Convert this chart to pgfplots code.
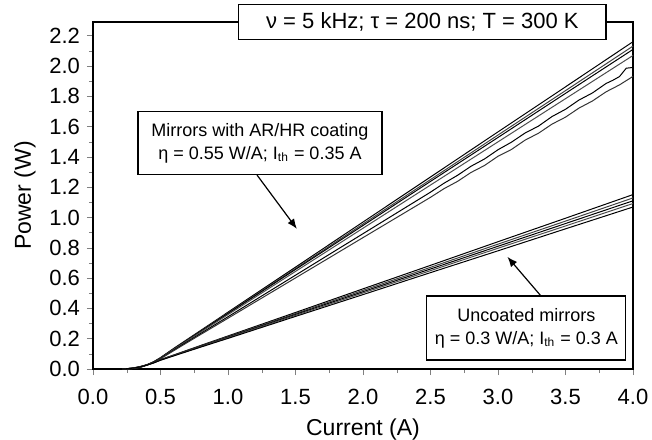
\documentclass[border=0pt]{standalone}
\usepackage{fontspec}
\setmainfont{Liberation Sans}
\usepackage{pgfplots}
\pgfplotsset{compat=1.18}
\usetikzlibrary{arrows.meta}

\begin{document}
\begin{tikzpicture}
\path[use as bounding box] (-46.5pt,-35pt) rectangle (279.5pt,184.5pt);
\begin{axis}[
    scale only axis,
    width=270pt, height=173.5pt,
    xmin=0, xmax=4, ymin=0, ymax=2.29,
    xtick={0,0.5,1,1.5,2,2.5,3,3.5,4},
    ytick={0,0.2,0.4,0.6,0.8,1,1.2,1.4,1.6,1.8,2,2.2},
    minor x tick num=1, minor y tick num=1,
    xtick pos=bottom, ytick pos=left,
    tick align=outside,
    major tick length=3pt, minor tick length=2pt,
    /pgf/number format/.cd, fixed, fixed zerofill, precision=1, assume math mode=true,
    /pgfplots/.cd,
    tick label style={font=\fontsize{11}{12}\selectfont},
    xticklabel style={yshift=-3.5pt},
    label style={font=\fontsize{11.5}{13}\selectfont},
    xlabel={Current (A)}, ylabel={Power (W)},
    clip=false,
    axis line style={line width=0.6pt},
    cycle list={{black,solid}},
    every axis plot/.append style={line width=0.5pt, no markers},
]
% mirrors with AR/HR coating
\addplot[black] coordinates {(0.25,0) (0.30,0.004) (0.35,0.013) (0.40,0.028) (0.45,0.048) (0.50,0.075)
  (0.6,0.137) (0.8,0.256) (1.0,0.375) (1.5,0.672) (2.0,0.970) (2.5,1.267) (3.0,1.565) (3.5,1.862) (4.0,2.160)};
\addplot[black!75] coordinates {(0.25,0) (0.30,0.004) (0.35,0.013) (0.40,0.028) (0.45,0.048) (0.50,0.074)
  (0.6,0.135) (0.8,0.252) (1.0,0.370) (1.5,0.663) (2.0,0.957) (2.5,1.250) (3.0,1.544) (3.5,1.837) (4.0,2.131)};
\addplot[black] coordinates {(0.25,0) (0.30,0.004) (0.35,0.013) (0.40,0.027) (0.45,0.047) (0.50,0.073)
  (0.6,0.134) (0.8,0.250) (1.0,0.366) (1.5,0.657) (2.0,0.947) (2.5,1.238) (3.0,1.528) (3.5,1.819) (4.0,2.109)};
\addplot[black!70] coordinates {(0.25,0) (0.30,0.004) (0.35,0.012) (0.40,0.027) (0.45,0.046) (0.50,0.072)
  (0.6,0.131) (0.8,0.245) (1.0,0.359) (1.5,0.644) (2.0,0.929) (2.5,1.214) (3.0,1.499) (3.5,1.784) (4.0,2.069)};
\addplot[black] coordinates {(0.25,0) (0.30,0.004) (0.35,0.012) (0.40,0.026) (0.45,0.045) (0.50,0.070)
  (0.6,0.126) (0.8,0.236) (1.0,0.345) (1.5,0.619) (2.0,0.893) (2.5,1.167)
  (2.6,1.226) (2.7,1.278) (2.8,1.338) (2.9,1.386) (3.0,1.447) (3.1,1.497) (3.2,1.557) (3.3,1.603)
  (3.4,1.666) (3.5,1.714) (3.6,1.775) (3.7,1.822) (3.8,1.884) (3.85,1.905) (3.9,1.930) (3.95,1.985) (4.0,1.990)};
\addplot[black!80] coordinates {(0.25,0) (0.30,0.004) (0.35,0.011) (0.40,0.025) (0.45,0.043) (0.50,0.068)
  (0.6,0.122) (0.8,0.229) (1.0,0.335) (1.5,0.601) (2.0,0.867) (2.5,1.133)
  (2.6,1.190) (2.7,1.238) (2.8,1.297) (2.9,1.343) (3.0,1.404) (3.1,1.449) (3.2,1.510) (3.3,1.556)
  (3.4,1.616) (3.5,1.662) (3.6,1.722) (3.7,1.769) (3.8,1.829) (3.9,1.875) (4.0,1.931)};
% uncoated mirrors
\addplot[black] coordinates {(0.22,0) (0.25,0.002) (0.30,0.007) (0.35,0.016) (0.40,0.028) (0.45,0.043) (0.5,0.062)
  (0.6,0.093) (0.8,0.156) (1.0,0.218) (1.5,0.373) (2.0,0.529) (2.5,0.684) (3.0,0.840) (3.5,0.995) (4.0,1.151)};
\addplot[black!75] coordinates {(0.22,0) (0.25,0.002) (0.30,0.007) (0.35,0.016) (0.40,0.028) (0.45,0.043) (0.5,0.061)
  (0.6,0.092) (0.8,0.153) (1.0,0.214) (1.5,0.366) (2.0,0.519) (2.5,0.671) (3.0,0.824) (3.5,0.976) (4.0,1.129)};
\addplot[black] coordinates {(0.22,0) (0.25,0.002) (0.30,0.007) (0.35,0.015) (0.40,0.027) (0.45,0.042) (0.5,0.060)
  (0.6,0.090) (0.8,0.150) (1.0,0.210) (1.5,0.360) (2.0,0.510) (2.5,0.660) (3.0,0.810) (3.5,0.960) (4.0,1.110)};
\addplot[black!70] coordinates {(0.22,0) (0.25,0.002) (0.30,0.006) (0.35,0.015) (0.40,0.027) (0.45,0.041) (0.5,0.059)
  (0.6,0.089) (0.8,0.148) (1.0,0.207) (1.5,0.354) (2.0,0.502) (2.5,0.649) (3.0,0.797) (3.5,0.944) (4.0,1.092)};
\addplot[black] coordinates {(0.22,0) (0.25,0.002) (0.30,0.006) (0.35,0.014) (0.40,0.026) (0.45,0.040) (0.5,0.058)
  (0.6,0.087) (0.8,0.145) (1.0,0.202) (1.5,0.347) (2.0,0.491) (2.5,0.636) (3.0,0.780) (3.5,0.925) (4.0,1.069)};

% annotations
\node[draw, fill=white, line width=0.6pt, minimum width=183.5pt, minimum height=17.5pt,
      inner sep=0pt, font=\fontsize{11}{12}\selectfont]
  at (axis cs:2.44,2.289) {ν = 5 kHz; τ = 200 ns; T = 300 K};
\node[draw, fill=white, line width=0.6pt, minimum width=122pt, minimum height=31.5pt,
      inner sep=0pt, align=center, font=\fontsize{9}{11.5}\selectfont]
  at (axis cs:1.237,1.49) {Mirrors with AR/HR coating\\η = 0.55 W/A; I\textsubscript{th} = 0.35 A};
\node[draw, fill=white, line width=0.6pt, minimum width=99.5pt, minimum height=32pt,
      inner sep=0pt, align=center, font=\fontsize{9}{11.5}\selectfont]
  at (axis cs:3.21,0.27) {Uncoated mirrors\\η = 0.3 W/A; I\textsubscript{th} = 0.3 A};
\draw[-{Latex[length=5pt,width=4pt]}, line width=0.6pt] (axis cs:1.215,1.28) -- (axis cs:1.51,0.925);
\draw[-{Latex[length=5pt,width=4pt]}, line width=0.6pt] (axis cs:3.32,0.48) -- (axis cs:3.07,0.74);
\end{axis}
\end{tikzpicture}
\end{document}
